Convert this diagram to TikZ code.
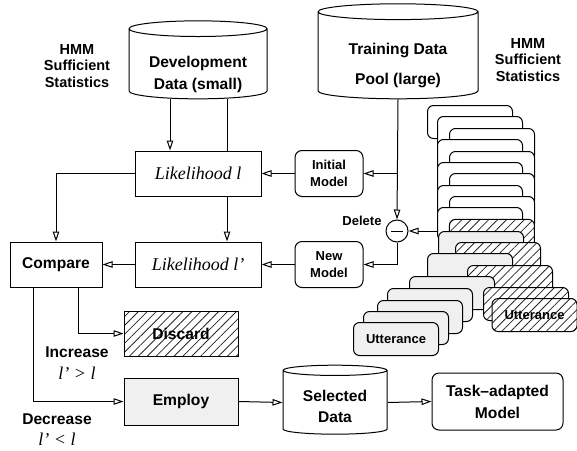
\documentclass[tikz,border=0pt]{standalone}
\usepackage{fontspec}
\setmainfont{Liberation Serif}
\setsansfont{Liberation Sans}
\usetikzlibrary{shapes.geometric,arrows.meta,patterns.meta}

\newcommand\dblower[2]{\raisebox{#1}[\height][\depth]{\begin{tabular}{@{}c@{}}#2\end{tabular}}}

\tikzset{
  arr/.style={-{Triangle[open,length=10pt,width=6.5pt]}},
  bf/.style={font=\sffamily\bfseries\fontsize{15.6}{22}\selectfont},
  box/.style={draw, bf, inner sep=0pt, align=center, minimum height=45pt},
  lik/.style={box, minimum width=126pt, font=\itshape\fontsize{18}{20}\selectfont},
  model/.style={draw, rounded corners=7pt, inner sep=0pt, align=center,
    minimum width=68pt, minimum height=46pt,
    font=\sffamily\bfseries\fontsize{13}{17}\selectfont},
  db/.style={draw, cylinder, shape border rotate=90, aspect=0.16, inner sep=0pt, bf},
  hmm/.style={align=center, font=\sffamily\bfseries\fontsize{14.5}{16.5}\selectfont},
  utt/.style={draw, fill=white, rounded corners=6pt, anchor=north west,
    minimum width=85pt, minimum height=33pt, inner sep=0pt,
    font=\sffamily\bfseries\fontsize{13}{15}\selectfont},
  uttgray/.style={utt, fill=black!6},
  hatched/.style={preaction={fill=white},
    pattern={Lines[angle=45,distance=6.3pt,line width=.8pt]}, pattern color=black!85},
  utthatch/.style={utt, hatched}
}

\begin{document}
\begin{tikzpicture}[x=1pt, y=-1pt, line width=1pt]
  \useasboundingbox (0,0) rectangle (577,450);

  % data pools
  \node[db, minimum width=138pt, minimum height=78pt] (dev) at (198,64)
    {\dblower{-10pt}{Development\\Data (small)}};
  \node[db, minimum width=160pt, minimum height=95pt,
    font=\sffamily\bfseries\fontsize{15.6}{30}\selectfont] (pool) at (398,55.5)
    {\dblower{-8pt}{Training Data\\Pool (large)}};
  \node[hmm] (hmml) at (77,66) {HMM\\Sufficient\\Statistics};
  \node[hmm] (hmmr) at (528,60) {HMM\\Sufficient\\Statistics};

  % likelihoods
  \node[lik] (lik1) at (198,173.5) {Likelihood l};
  \node[lik] (lik2) at (198,264.5) {Likelihood l'};
  \node[box, minimum width=92pt] (cmp) at (56,264.5) {Compare};
  \node[model] (init) at (329,173.5) {Initial\\Model};
  \node[model] (newm) at (329,264.5) {New\\Model};
  \node[draw, circle, minimum size=22pt, inner sep=0pt] (del) at (397,231) {};
  \draw ([xshift=-6pt]del.center) -- ([xshift=6pt]del.center);
  \node[font=\sffamily\bfseries\fontsize{13}{15}\selectfont] (dellbl) at (362,221) {Delete};

  % utterance stack
  \foreach \ux/\uy [count=\i] in {427/105,437/116,449/128,437/139,449/151,
      437/162,449/173,437/185,449/196,437/207}
    \node[utt] (u\i) at (\ux,\uy) {};
  \node[utthatch] (u11) at (449,219) {};
  \node[uttgray] (u12) at (438,231) {};
  \node[utthatch] (u13) at (455,242) {};
  \node[uttgray] (u14) at (427,253) {};
  \node[utthatch] (u15) at (467,265) {};
  \node[uttgray] (u16) at (409,276) {};
  \node[utthatch] (u17) at (483,287) {};
  \node[uttgray] (u18) at (387,288) {};
  \node[utthatch] (u19) at (491.5,298) {Utterance};
  \node[uttgray] (u20) at (377,300) {};
  \node[uttgray] (u21) at (363,311) {};
  \node[uttgray] (u22) at (353,322) {Utterance};

  % decision
  \node[box, hatched, minimum width=114pt] (disc) at (181,333.5) {Discard};
  \node[box, fill=black!6, minimum width=114pt, minimum height=47pt] (emp) at (181,401.5) {Employ};
  \node[db, minimum width=104pt, minimum height=69pt,
    font=\sffamily\bfseries\fontsize{15.6}{21}\selectfont] (sel) at (335,402.5)
    {\dblower{-5.5pt}{Selected\\Data}};
  \node[model, minimum width=131pt, minimum height=57pt,
    font=\sffamily\bfseries\fontsize{15.6}{22}\selectfont] (task) at (497.5,401.5) {Task--adapted\\Model};
  \node[bf] (inc) at (77,352) {Increase};
  \node[font=\itshape\fontsize{18}{20}\selectfont] (incr) at (77,373) {l' > l};
  \node[bf] (dec) at (57,419) {Decrease};
  \node[font=\itshape\fontsize{18}{20}\selectfont] (decr) at (57,439.5) {l' < l};

  % connectors
  \draw[arr] ([xshift=-28pt]dev.south) -- ([xshift=-28pt]lik1.north);
  \draw ([xshift=29pt]dev.south) -- ([xshift=29pt]lik1.north);
  \draw[arr] ([xshift=29pt]lik1.south) -- ([xshift=29pt]lik2.north);
  \draw[arr] (lik1.west) -| (cmp.north);
  \draw[arr] (lik2.west) -- (cmp.east);
  \draw[arr] (init.west) -- (lik1.east);
  \draw[arr] (newm.west) -- (lik2.east);
  \draw[arr] (pool.south) -- (del.north);
  \draw[arr] (pool.south |- init.east) -- (init.east);
  \draw[arr] (del.east -| u10.west) -- (del.east);
  \draw[arr] (del.south) |- (newm.east);
  \draw[arr] ([xshift=22pt]cmp.south) |- (disc.west);
  \draw[arr] ([xshift=-23pt]cmp.south) |- (emp.west);
  \draw[arr] (emp.east) -- (sel.west);
  \draw[arr] (sel.east) -- (task.west);
\end{tikzpicture}
\end{document}
